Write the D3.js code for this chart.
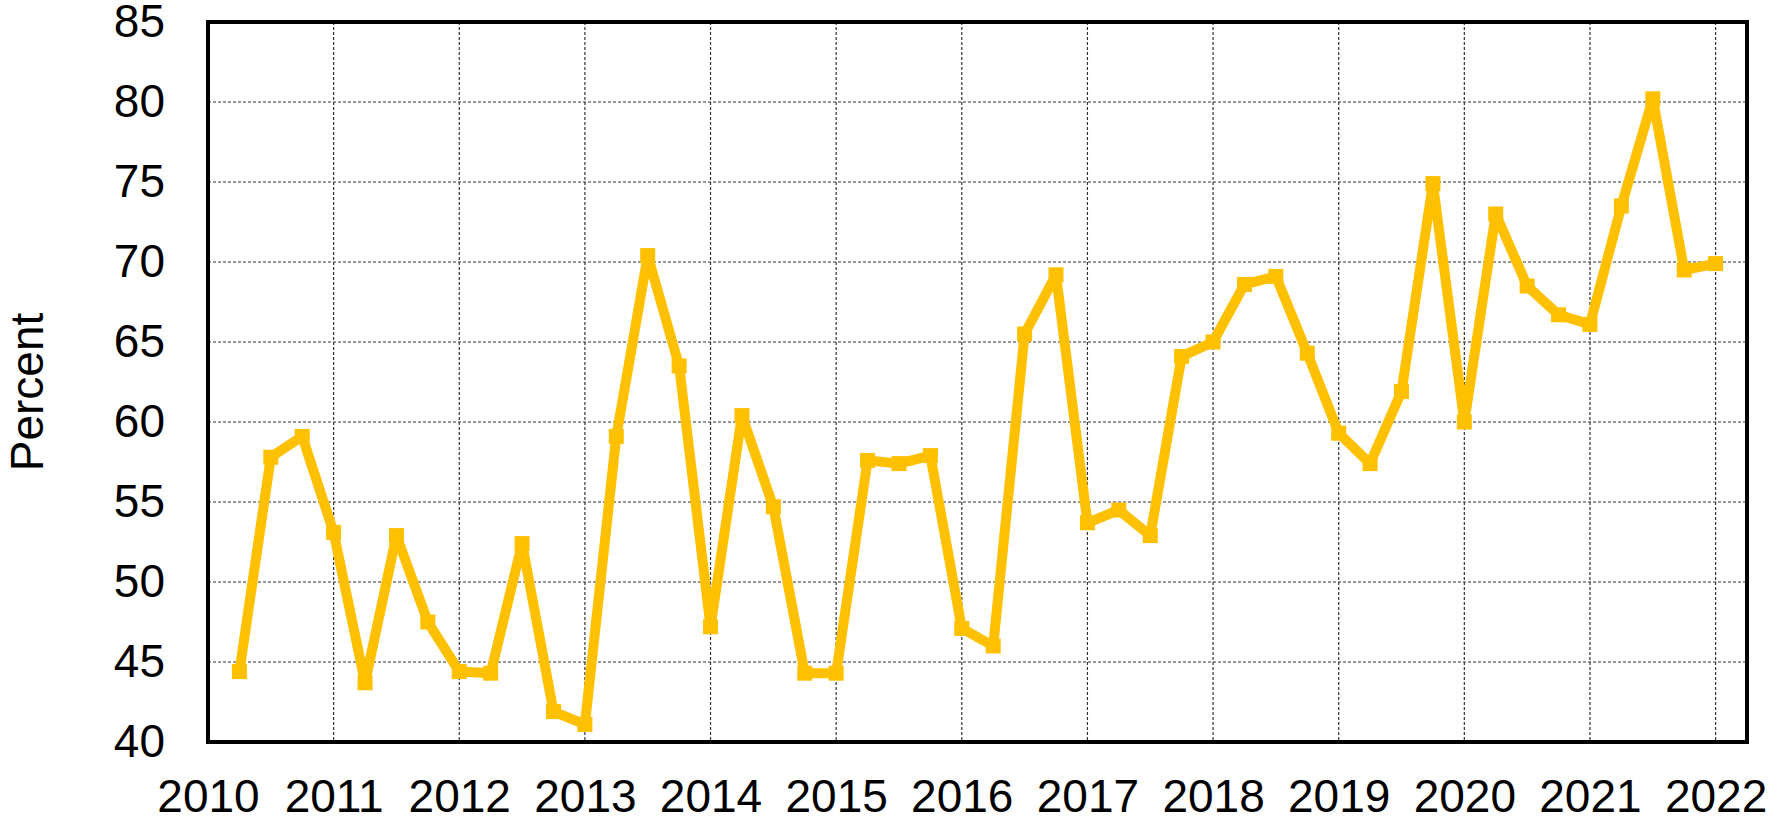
<!DOCTYPE html>
<meta charset="utf-8">
<style>
body { margin: 0; background: #fff; }
text { font-family: "Liberation Sans", Arial, sans-serif; fill: #000; }
.grid line { stroke: #333; stroke-width: 1.2px; stroke-dasharray: 3,2; }
</style>
<svg width="1771" height="823"></svg>
<script src="https://d3js.org/d3.v7.min.js"></script>
<script>

// quarterly observations (decimal year)
var quarters = [
  2010.25, 2010.5, 2010.75, 2011.0,
  2011.25, 2011.5, 2011.75, 2012.0,
  2012.25, 2012.5, 2012.75, 2013.0,
  2013.25, 2013.5, 2013.75, 2014.0,
  2014.25, 2014.5, 2014.75, 2015.0,
  2015.25, 2015.5, 2015.75, 2016.0,
  2016.25, 2016.5, 2016.75, 2017.0,
  2017.25, 2017.5, 2017.75, 2018.0,
  2018.25, 2018.5, 2018.75, 2019.0,
  2019.25, 2019.5, 2019.75, 2020.0,
  2020.25, 2020.5, 2020.75, 2021.0,
  2021.25, 2021.5, 2021.75, 2022.0
];
var percent = [
  44.4, 57.8, 59.1, 53.1,
  43.7, 52.9, 47.5, 44.4,
  44.3, 52.4, 41.9, 41.1,
  59.1, 70.4, 63.5, 47.2,
  60.4, 54.7, 44.3, 44.3,
  57.6, 57.4, 57.9, 47.1,
  46.0, 65.5, 69.2, 53.7,
  54.5, 52.9, 64.1, 65.0,
  68.6, 69.1, 64.3, 59.3,
  57.4, 61.9, 74.9, 60.0,
  73.0, 68.5, 66.7, 66.1,
  73.5, 80.2, 69.5, 69.9
];
var yearTicks = [2010, 2011, 2012, 2013, 2014, 2015, 2016, 2017, 2018, 2019, 2020, 2021, 2022];
var yTicks = [40, 45, 50, 55, 60, 65, 70, 75, 80, 85];

var svg = d3.select("svg"),
    plotL = 208, plotR = 1747, plotT = 22, plotB = 742;

var data = quarters.map(function(q, i) { return {q: q, v: percent[i]}; });

var x = d3.scaleLinear().domain([2010, 2022.25]).range([plotL, plotR]);
var y = d3.scaleLinear().domain([40, 85]).range([plotB, plotT]);

// grid
var grid = svg.append("g").attr("class", "grid");
grid.selectAll(".v").data(yearTicks.filter(function(d) { return d > 2010; }))
  .enter().append("line")
    .attr("x1", function(d) { return x(d); }).attr("x2", function(d) { return x(d); })
    .attr("y1", plotT).attr("y2", plotB);
grid.selectAll(".h").data(yTicks.filter(function(d) { return d > 40 && d < 85; }))
  .enter().append("line")
    .attr("x1", plotL).attr("x2", plotR)
    .attr("y1", function(d) { return y(d); }).attr("y2", function(d) { return y(d); });

// axes (labels only, frame drawn separately)
var xAxis = svg.append("g")
    .attr("transform", "translate(0," + plotB + ")")
    .call(d3.axisBottom(x).tickValues(yearTicks).tickFormat(d3.format("d")).tickSize(0).tickPadding(37));
var yAxis = svg.append("g")
    .attr("transform", "translate(" + plotL + ",0)")
    .call(d3.axisLeft(y).tickValues(yTicks).tickSize(0).tickPadding(43));
[xAxis, yAxis].forEach(function(a) {
  a.select(".domain").remove();
  a.selectAll("text").style("font-size", "46px").attr("fill", "#000")
    .style("font-family", "'Liberation Sans', Arial, sans-serif");
});

svg.append("text")
    .attr("transform", "translate(43,392) rotate(-90)")
    .attr("text-anchor", "middle")
    .style("font-size", "46px")
    .text("Percent");

// series
var line = d3.line()
    .x(function(d) { return x(d.q); })
    .y(function(d) { return y(d.v); });

svg.append("path")
    .datum(data)
    .attr("fill", "none")
    .attr("stroke", "#FFC000")
    .attr("stroke-width", 10)
    .attr("stroke-linejoin", "round")
    .attr("d", line);

svg.append("g").selectAll("rect")
    .data(data)
  .enter().append("rect")
    .attr("x", function(d) { return x(d.q) - 7.5; })
    .attr("y", function(d) { return y(d.v) - 7.5; })
    .attr("width", 15)
    .attr("height", 15)
    .attr("fill", "#FFC000");

// frame
svg.append("rect")
    .attr("x", plotL).attr("y", plotT)
    .attr("width", plotR - plotL).attr("height", plotB - plotT)
    .attr("fill", "none")
    .attr("stroke", "#000")
    .attr("stroke-width", 4);

</script>
